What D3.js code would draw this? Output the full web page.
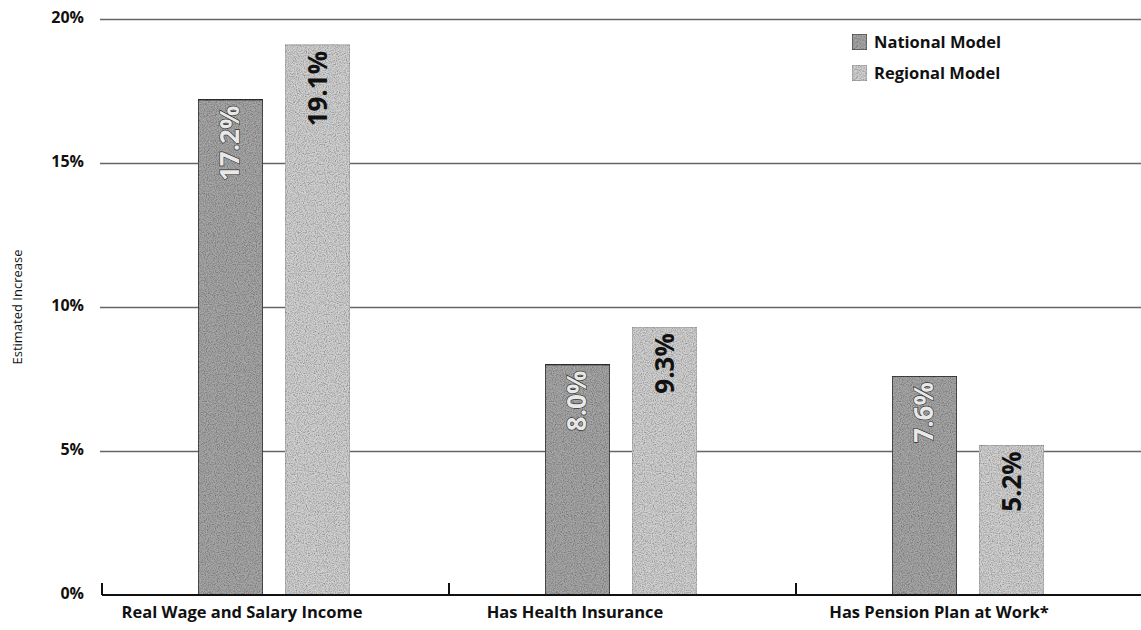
<!DOCTYPE html>
<html>
<head>
<meta charset="utf-8">
<script src="https://cdn.jsdelivr.net/npm/d3@7"></script>
<style>
  body { margin: 0; background: #fff; }
  text { font-family: "Open Sans", "Noto Sans", sans-serif; }
</style>
</head>
<body>
<script>
// données
const categories = ['Real Wage and Salary Income', 'Has Health Insurance', 'Has Pension Plan at Work*'];
const seriesNames = ['National Model', 'Regional Model'];
const nationalValues = [17.2, 8.0, 7.6];
const regionalValues = [19.1, 9.3, 5.2];
const yTicks = [0, 5, 10, 15, 20];

const rows = categories.map((c, i) => ({ cat: c, values: [nationalValues[i], regionalValues[i]] }));

const width = 1141, height = 630;
const margin = { top: 19, right: -2, bottom: 35, left: 102 };
const innerW = width - margin.left - margin.right;
const innerH = height - margin.top - margin.bottom;
// décalage des libellés de catégorie (mise en page de l'original)
const labelShift = [-32, -46, -29];

const svg = d3.select('body').append('svg')
    .attr('width', width)
    .attr('height', height);

// texture grise
const defs = svg.append('defs');
const f = defs.append('filter').attr('id', 'grain').attr('x', 0).attr('y', 0).attr('width', 1).attr('height', 1);
f.append('feTurbulence').attr('type', 'fractalNoise').attr('baseFrequency', 0.9).attr('numOctaves', 2).attr('seed', 3).attr('result', 'noise');
f.append('feColorMatrix').attr('in', 'noise').attr('type', 'matrix')
    .attr('values', '0 0 0 0 0  0 0 0 0 0  0 0 0 0 0  0 0 0 1.2 -0.45').attr('result', 'dots');
f.append('feComposite').attr('in', 'dots').attr('in2', 'SourceGraphic').attr('operator', 'in').attr('result', 'dots2');
f.append('feMerge').selectAll('feMergeNode').data(['SourceGraphic', 'dots2']).join('feMergeNode').attr('in', d => d);

const g = svg.append('g').attr('transform', `translate(${margin.left},${margin.top})`);

const x0 = d3.scaleBand().domain(categories).range([0, innerW]).padding(0);
const x1 = d3.scaleBand().domain(seriesNames).range([96, 248]).paddingInner(0.253);
const y = d3.scaleLinear().domain([0, 20]).range([innerH, 0]);

const colors = ['#a6a6a6', '#d0d0d0'];

// grille
g.append('g')
    .call(d3.axisLeft(y).tickValues(yTicks.filter(d => d > 0)).tickSize(-innerW - 2).tickFormat(''))
    .call(s => s.select('.domain').remove())
    .call(s => s.selectAll('.tick line').attr('stroke', '#666').attr('stroke-width', 1.4).attr('transform', 'translate(-2,0)'));

// étiquettes Y
g.append('g')
    .call(d3.axisLeft(y).tickValues(yTicks).tickSize(0).tickPadding(18).tickFormat(d => d + '%'))
    .call(s => s.select('.domain').remove())
    .call(s => s.selectAll('text').attr('font-size', 16).attr('font-weight', 700).attr('fill', '#111').attr('dy', '0.2em'));

// barres
const groups = g.selectAll('.grp').data(rows).join('g')
    .attr('transform', d => `translate(${x0(d.cat)},0)`);

groups.selectAll('rect').data(d => d.values.map((v, i) => ({ v, s: seriesNames[i], i }))).join('rect')
    .attr('x', d => x1(d.s))
    .attr('y', d => y(d.v))
    .attr('width', x1.bandwidth())
    .attr('height', d => y(0) - y(d.v))
    .attr('fill', d => colors[d.i])
    .attr('stroke', d => d.i === 0 ? '#333' : '#999')
    .attr('stroke-width', d => d.i === 0 ? 1.5 : 0.8)
    .attr('filter', 'url(#grain)');

groups.selectAll('.lbl').data(d => d.values.map((v, i) => ({ v, s: seriesNames[i], i }))).join('text')
    .attr('class', 'lbl')
    .attr('transform', d => `translate(${x1(d.s) + x1.bandwidth() / 2 + 9},${y(d.v) + 6}) rotate(-90)`)
    .attr('text-anchor', 'end')
    .attr('font-size', 26)
    .attr('font-weight', 700)
    .attr('fill', d => d.i === 0 ? '#e8e8e8' : '#111')
    .attr('stroke', d => d.i === 0 ? '#333' : 'none')
    .attr('stroke-width', 1.3)
    .attr('paint-order', 'stroke')
    .text(d => d.v.toFixed(1) + '%');

// axe X
const xAxis = g.append('g').attr('transform', `translate(0,${innerH})`);
xAxis.append('line').attr('x1', 0).attr('x2', innerW).attr('stroke', '#111').attr('stroke-width', 2);
xAxis.selectAll('.sep').data(categories).join('line')
    .attr('x1', d => x0(d)).attr('x2', d => x0(d))
    .attr('y1', 0).attr('y2', -12)
    .attr('stroke', '#111').attr('stroke-width', 2);
xAxis.selectAll('.cat').data(categories).join('text')
    .attr('x', (d, i) => x0(d) + (x1.range()[0] + x1.range()[1]) / 2 + labelShift[i])
    .attr('y', 23)
    .attr('text-anchor', 'middle')
    .attr('font-size', 16.5)
    .attr('font-weight', 700)
    .attr('fill', '#111')
    .text(d => d);

// titre Y
svg.append('text')
    .attr('transform', `translate(22,${margin.top + y(10)}) rotate(-90)`)
    .attr('text-anchor', 'middle')
    .attr('font-size', 13)
    .attr('fill', '#111')
    .text('Estimated Increase');

// légende
const legend = svg.append('g').attr('transform', 'translate(852,34)');
const li = legend.selectAll('g').data(seriesNames).join('g')
    .attr('transform', (d, i) => `translate(0,${i * 31})`);
li.append('rect').attr('width', 15).attr('height', 16)
    .attr('fill', (d, i) => colors[i])
    .attr('stroke', (d, i) => i === 0 ? '#333' : '#999')
    .attr('filter', 'url(#grain)');
li.append('text').attr('x', 22).attr('y', 14)
    .attr('font-size', 16.5)
    .attr('font-weight', 700)
    .attr('fill', '#111')
    .text(d => d);
</script>
</body>
</html>
